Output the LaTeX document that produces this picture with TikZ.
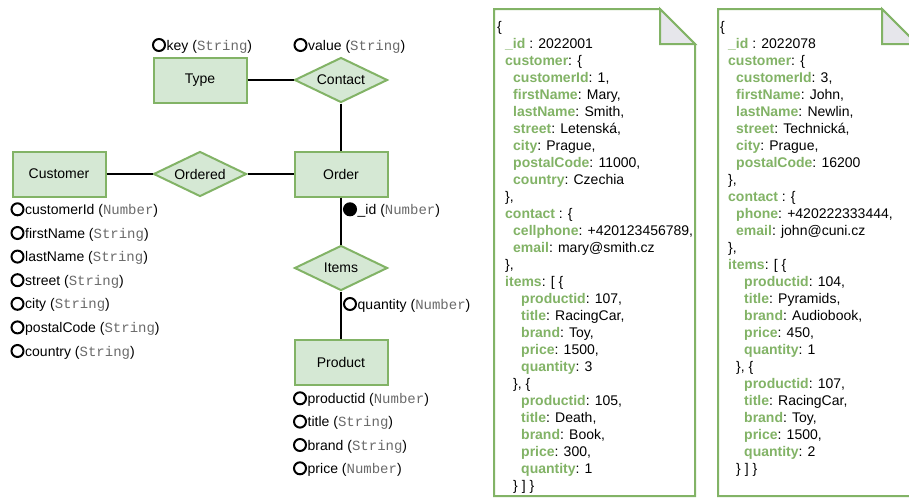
\documentclass[tikz,border=0pt]{standalone}
\usepackage{fontspec}
\setmainfont{Liberation Sans}
\setmonofont{Liberation Mono}
\usetikzlibrary{shapes.geometric}

\definecolor{erfill}{HTML}{D5E8D4}
\definecolor{erline}{HTML}{82B366}
\definecolor{keygreen}{HTML}{82B366}
\definecolor{typegray}{HTML}{6A6A6A}
\definecolor{foldfill}{HTML}{E6E6EB}

\newcommand{\mono}[1]{{\ttfamily\color{typegray}#1}}
\newcommand{\jk}[1]{\textbf{\color{keygreen}#1}}
% one line of a JSON document: name, indent level, row, text
\newcommand{\jl}[4]{\node[jtxt] (#1) at ({8*#2},{17*#3}) {#4};}
% attribute marker with its label: name, x, y, label
\newcommand{\attr}[5][attrc]{%
  \node[#1] (#2) at (#3,#4) {};
  \node[attrt] (#2-t) at (#2.east) {#5};}

\tikzset{
  txt/.style={font=\fontsize{14}{17}\selectfont},
  entity/.style={txt, rectangle, draw=erline, fill=erfill, line width=2pt,
    minimum width=93pt, minimum height=45pt, inner sep=0pt},
  relation/.style={txt, diamond, draw=erline, fill=erfill, line width=2pt,
    minimum width=93pt, minimum height=45pt, aspect=2, inner sep=0pt},
  link/.style={line width=2pt, draw=black},
  attrc/.style={circle, draw=black, line width=2pt, minimum size=12pt, inner sep=0pt},
  keyc/.style={attrc, fill=black},
  attrt/.style={txt, anchor=west, inner sep=0pt, xshift=0.5pt,
    text height=11pt, text depth=1pt},
  docpage/.style={draw=erline, fill=white, line width=2pt, line join=miter},
  docfold/.style={draw=erline, fill=foldfill, line width=2pt, line join=miter},
  jtxt/.style={txt, anchor=base west, inner sep=0pt},
}

\begin{document}
\begin{tikzpicture}[x=1pt, y=-1pt]
\useasboundingbox (0,0) rectangle (909,498);
\clip (0,0) rectangle (909,498);

% ---------- ER diagram ----------
\node[entity]   (type)     at (200,80)  {Type};
\node[relation] (contact)  at (341,80)  {Contact};
\node[entity]   (customer) at (59,174)  {Customer};
\node[relation] (ordered)  at (200,174) {Ordered};
\node[entity]   (order)    at (341,174) {Order};
\node[relation] (items)    at (341,268) {Items};
\node[entity]   (product)  at (341,362) {Product};

\draw[link] (type) -- (contact);
\draw[link] (contact) -- (order);
\draw[link] (customer) -- (ordered);
\draw[link] (ordered) -- (order);
\draw[link] (order) -- (items);
\draw[link] (items) -- (product);

\attr{a-key}{159}{45}{key (\mono{String})}
\attr{a-value}{300.5}{45}{value (\mono{String})}

\attr{a-cid}{17.5}{209.3}{customerId (\mono{Number})}
\attr{a-first}{17.5}{233}{firstName (\mono{String})}
\attr{a-last}{17.5}{256.6}{lastName (\mono{String})}
\attr{a-street}{17.5}{280.2}{street (\mono{String})}
\attr{a-city}{17.5}{303.8}{city (\mono{String})}
\attr{a-postal}{17.5}{327.4}{postalCode (\mono{String})}
\attr{a-country}{17.5}{351}{country (\mono{String})}

\attr[keyc]{a-id}{350}{209.3}{\_id (\mono{Number})}
\attr{a-qty}{350}{304}{quantity (\mono{Number})}

\attr{a-pid}{300}{398.3}{productid (\mono{Number})}
\attr{a-title}{300}{421.6}{title (\mono{String})}
\attr{a-brand}{300}{445}{brand (\mono{String})}
\attr{a-price}{300}{468.3}{price (\mono{Number})}

% ---------- document 1 ----------
\draw[docpage] (494,9) -- (660,9) -- (695,44) -- (695,496) -- (494,496) -- cycle;
\draw[docfold] (660,9) -- (660,44) -- (695,44) -- cycle;
\begin{scope}[shift={(497,31)}]
\jl{d1r0}{0}{0}{\{}
\jl{d1r1}{1}{1}{\jk{\_id} : 2022001}
\jl{d1r2}{1}{2}{\jk{customer}: \{}
\jl{d1r3}{2}{3}{\jk{customerId}: 1,}
\jl{d1r4}{2}{4}{\jk{firstName}: Mary,}
\jl{d1r5}{2}{5}{\jk{lastName}: Smith,}
\jl{d1r6}{2}{6}{\jk{street}: Letenská,}
\jl{d1r7}{2}{7}{\jk{city}: Prague,}
\jl{d1r8}{2}{8}{\jk{postalCode}: 11000,}
\jl{d1r9}{2}{9}{\jk{country}: Czechia}
\jl{d1r10}{1}{10}{\},}
\jl{d1r11}{1}{11}{\jk{contact} : \{}
\jl{d1r12}{2}{12}{\jk{cellphone}: +420123456789,}
\jl{d1r13}{2}{13}{\jk{email}: mary@smith.cz}
\jl{d1r14}{1}{14}{\},}
\jl{d1r15}{1}{15}{\jk{items}: [ \{}
\jl{d1r16}{3}{16}{\jk{productid}: 107,}
\jl{d1r17}{3}{17}{\jk{title}: RacingCar,}
\jl{d1r18}{3}{18}{\jk{brand}: Toy,}
\jl{d1r19}{3}{19}{\jk{price}: 1500,}
\jl{d1r20}{3}{20}{\jk{quantity}: 3}
\jl{d1r21}{2}{21}{\}, \{}
\jl{d1r22}{3}{22}{\jk{productid}: 105,}
\jl{d1r23}{3}{23}{\jk{title}: Death,}
\jl{d1r24}{3}{24}{\jk{brand}: Book,}
\jl{d1r25}{3}{25}{\jk{price}: 300,}
\jl{d1r26}{3}{26}{\jk{quantity}: 1}
\jl{d1r27}{2}{27}{\} ] \}}
\end{scope}

% ---------- document 2 ----------
\draw[docpage] (718,9) -- (882,9) -- (917,44) -- (917,496) -- (718,496) -- cycle;
\draw[docfold] (882,9) -- (882,44) -- (917,44) -- cycle;
\begin{scope}[shift={(720,31)}]
\jl{d2r0}{0}{0}{\{}
\jl{d2r1}{1}{1}{\jk{\_id} : 2022078}
\jl{d2r2}{1}{2}{\jk{customer}: \{}
\jl{d2r3}{2}{3}{\jk{customerId}: 3,}
\jl{d2r4}{2}{4}{\jk{firstName}: John,}
\jl{d2r5}{2}{5}{\jk{lastName}: Newlin,}
\jl{d2r6}{2}{6}{\jk{street}: Technická,}
\jl{d2r7}{2}{7}{\jk{city}: Prague,}
\jl{d2r8}{2}{8}{\jk{postalCode}: 16200}
\jl{d2r9}{1}{9}{\},}
\jl{d2r10}{1}{10}{\jk{contact} : \{}
\jl{d2r11}{2}{11}{\jk{phone}: +420222333444,}
\jl{d2r12}{2}{12}{\jk{email}: john@cuni.cz}
\jl{d2r13}{1}{13}{\},}
\jl{d2r14}{1}{14}{\jk{items}: [ \{}
\jl{d2r15}{3}{15}{\jk{productid}: 104,}
\jl{d2r16}{3}{16}{\jk{title}: Pyramids,}
\jl{d2r17}{3}{17}{\jk{brand}: Audiobook,}
\jl{d2r18}{3}{18}{\jk{price}: 450,}
\jl{d2r19}{3}{19}{\jk{quantity}: 1}
\jl{d2r20}{2}{20}{\}, \{}
\jl{d2r21}{3}{21}{\jk{productid}: 107,}
\jl{d2r22}{3}{22}{\jk{title}: RacingCar,}
\jl{d2r23}{3}{23}{\jk{brand}: Toy,}
\jl{d2r24}{3}{24}{\jk{price}: 1500,}
\jl{d2r25}{3}{25}{\jk{quantity}: 2}
\jl{d2r26}{2}{26}{\} ] \}}
\end{scope}
\end{tikzpicture}
\end{document}
